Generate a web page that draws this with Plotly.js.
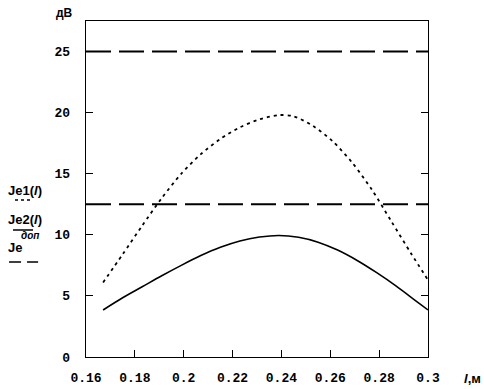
<!DOCTYPE html>
<html><head><meta charset="utf-8">
<script src="https://cdn.plot.ly/plotly-3.0.1.min.js"></script>
<style>body{margin:0;background:#fff}#c{width:484px;height:389px}</style>
</head><body><div id="c"></div>
<script>
const xSolid = [0.167,0.175,0.183,0.191,0.199,0.207,0.215,0.223,0.231,0.239,0.247,0.255,0.263,0.271,0.279,0.287,0.295,0.3];
const je2 = [3.85,4.85,5.75,6.65,7.5,8.3,8.98,9.5,9.82,9.95,9.8,9.4,8.75,7.9,6.9,5.8,4.6,3.85];
const xDot = [0.167,0.175,0.183,0.191,0.199,0.207,0.215,0.223,0.231,0.239,0.245,0.253,0.261,0.269,0.277,0.285,0.293,0.3];
const je1 = [6.1,8.4,10.75,13.0,15.0,16.6,17.85,18.8,19.45,19.8,19.7,18.9,17.65,15.9,13.7,11.1,8.5,6.3];
const xLim = [0.16,0.3];
const jeDop1 = [25,25];
const jeDop2 = [12.5,12.5];
const xTicks = [0.16,0.18,0.2,0.22,0.24,0.26,0.28,0.3];
const xTickText = ['0.16','0.18','0.2','0.22','0.24','0.26','0.28','0.3'];
const yTicks = [0,5,10,15,20,25];

const tickFont = {family:'Liberation Mono', size:13, color:'#000', weight:'bold'};
const lblFont = {family:'Liberation Sans', size:13, color:'#000', weight:'bold'};

const data = [
  {x:xLim, y:jeDop1, mode:'lines', line:{color:'#000', width:2, dash:'25px,8px'}, hoverinfo:'skip'},
  {x:xLim, y:jeDop2, mode:'lines', line:{color:'#000', width:2, dash:'25px,8px'}, hoverinfo:'skip'},
  {x:xDot, y:je1, mode:'lines', line:{color:'#000', width:1.8, dash:'3px,4px', shape:'spline', smoothing:0.8}},
  {x:xSolid, y:je2, mode:'lines', line:{color:'#000', width:1.6, shape:'spline', smoothing:0.8}}
];

function ann(x, y, text, font){
  return {xref:'paper', yref:'paper', x:x, y:y, xanchor:'center', yanchor:'middle', text:text, showarrow:false, font:font};
}

const layout = {
  width:484, height:389,
  margin:{l:86, r:56, t:21, b:32},
  paper_bgcolor:'#fff', plot_bgcolor:'#fff',
  showlegend:false,
  xaxis:{range:[0.16,0.3], tickvals:xTicks, ticktext:xTickText, ticks:'inside', ticklen:7,
    tickcolor:'#000', linecolor:'#000', linewidth:1.4, mirror:true, showgrid:false, zeroline:false,
    tickfont:tickFont, ticklabelstandoff:8},
  yaxis:{range:[0,27.5], tickvals:yTicks, ticks:'inside', ticklen:7, tickcolor:'#000',
    linecolor:'#000', linewidth:1.4, mirror:'ticks', showgrid:false, zeroline:false,
    tickfont:tickFont, ticklabelstandoff:12},
  annotations:[
    ann(-0.064, 1.024, 'дВ', {family:'Liberation Sans', size:12, color:'#000', weight:'bold'}),
    ann(1.13, -0.0625, '<i>l</i>,м', lblFont),
    ann(-0.177, 0.497, 'Je1(<i>l</i>)', lblFont),
    ann(-0.177, 0.408, 'Je2(<i>l</i>)', lblFont),
    ann(-0.2076, 0.327, 'Je', lblFont),
    ann(-0.163, 0.362, '<i>доп</i>', {family:'Liberation Sans', size:10, color:'#000', weight:'bold'})
  ],
  shapes:[
    {type:'line', xref:'paper', yref:'paper', x0:-0.2076, x1:-0.158, y0:0.467, y1:0.467, line:{color:'#000', width:1.5, dash:'3px,3px'}},
    {type:'line', xref:'paper', yref:'paper', x0:-0.2135, x1:-0.155, y0:0.378, y1:0.378, line:{color:'#000', width:1.5}},
    {type:'line', xref:'paper', yref:'paper', x0:-0.225, x1:-0.140, y0:0.283, y1:0.283, line:{color:'#000', width:1.5, dash:'12px,6px'}}
  ]
};
Plotly.newPlot('c', data, layout, {staticPlot:true, displayModeBar:false});
</script></body></html>
